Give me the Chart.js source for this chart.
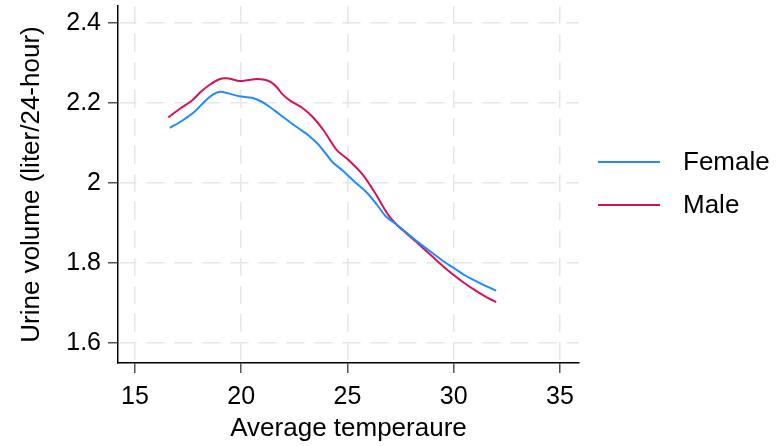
<!DOCTYPE html>
<html>
<head>
<meta charset="utf-8">
<script src="https://cdn.jsdelivr.net/npm/chart.js@4"></script>
<style>
  html, body { margin: 0; padding: 0; background: #fff; }
  #wrap { width: 782px; height: 446px; }
</style>
</head>
<body>
<div id="wrap"><canvas id="myChart" width="782" height="446"></canvas></div>
<script>
// temperature / urine volume
const femaleTemp = [16.64, 17.2, 17.8, 18.3, 18.7, 19.0, 19.4, 19.9, 20.5, 20.9, 21.3, 21.8, 22.3, 22.8, 23.1, 23.6, 24.0, 24.3, 24.8, 25.3, 25.9, 26.4, 26.8, 27.3, 27.8, 28.4, 29.0, 29.5, 30.0, 30.5, 31.0, 31.5, 32.0];
const femaleVol  = [2.138, 2.155, 2.178, 2.205, 2.222, 2.228, 2.224, 2.217, 2.213, 2.205, 2.192, 2.172, 2.152, 2.133, 2.122, 2.098, 2.072, 2.052, 2.030, 2.005, 1.977, 1.945, 1.917, 1.897, 1.875, 1.849, 1.825, 1.805, 1.788, 1.770, 1.756, 1.743, 1.731];

const maleTemp = [16.57, 17.1, 17.7, 18.1, 18.5, 19.0, 19.3, 19.6, 19.9, 20.3, 20.7, 21.1, 21.4, 21.7, 21.9, 22.3, 22.9, 23.4, 23.9, 24.5, 25.0, 25.7, 26.3, 26.9, 27.3, 27.8, 28.4, 29.0, 29.5, 30.0, 30.5, 31.0, 31.5, 32.0];
const maleVol  = [2.164, 2.185, 2.207, 2.228, 2.245, 2.260, 2.262, 2.259, 2.255, 2.257, 2.260, 2.258, 2.252, 2.238, 2.224, 2.206, 2.187, 2.163, 2.130, 2.082, 2.060, 2.022, 1.975, 1.922, 1.897, 1.873, 1.845, 1.816, 1.792, 1.770, 1.750, 1.732, 1.716, 1.702];

const xTicks = [15, 20, 25, 30, 35];
const yTicks = [1.6, 1.8, 2.0, 2.2, 2.4];
const seriesNames = ["Female", "Male"];

const FONT = "'Liberation Sans', Arial, sans-serif";

function toPoints(xs, ys) {
    const pts = [];
    for (let i = 0; i < xs.length; i++) pts.push({ x: xs[i], y: ys[i] });
    return pts;
}

// legend drawn at the right, like the original
const sideLegend = {
    id: "sideLegend",
    afterDraw(chart) {
        const ctx = chart.ctx;
        const rows = [162, 205];
        ctx.save();
        chart.data.datasets.forEach(function (ds, i) {
            ctx.strokeStyle = ds.borderColor;
            ctx.lineWidth = 2;
            ctx.beginPath();
            ctx.moveTo(598, rows[i]);
            ctx.lineTo(660, rows[i]);
            ctx.stroke();
            ctx.fillStyle = "#000";
            ctx.font = "26px " + FONT;
            ctx.textBaseline = "middle";
            ctx.textAlign = "left";
            ctx.fillText(ds.label, 683, rows[i] + 1);
        });
        ctx.restore();
    }
};

const gridOpts = {
    color: "#e6e6e6",
    lineWidth: 1.5,
    tickLength: 10,
    tickColor: "#555",
    tickWidth: 1.5,
    tickBorderDash: []
};

const ctx = document.getElementById("myChart").getContext("2d");
const chart = new Chart(ctx, {
    type: "line",
    data: {
        datasets: [{
            label: seriesNames[0],
            data: toPoints(femaleTemp, femaleVol),
            borderColor: "#1f8bff",
            backgroundColor: "transparent",
            borderWidth: 2,
            pointRadius: 0,
            tension: 0.3
        }, {
            label: seriesNames[1],
            data: toPoints(maleTemp, maleVol),
            borderColor: "#d41159",
            backgroundColor: "transparent",
            borderWidth: 2,
            pointRadius: 0,
            tension: 0.3
        }]
    },
    options: {
        responsive: false,
        animation: false,
        layout: { padding: { top: 6, right: 203, bottom: 0, left: 0 } },
        plugins: { legend: { display: false }, tooltip: { enabled: false } },
        scales: {
            x: {
                type: "linear",
                min: 14.2,
                max: 35.9,
                afterBuildTicks: function (scale) { scale.ticks = xTicks.map(v => ({ value: v })); },
                afterFit: function (scale) {
                    scale.height = 83;
                    scale.paddingLeft = 0;
                    scale.paddingRight = 0;
                },
                grid: gridOpts,
                border: { color: "#000", width: 1.5, dash: [18, 10] },
                ticks: { color: "#000", padding: 9, font: { family: FONT, size: 25 }, maxRotation: 0 },
                title: { display: true, text: "Average temperaure", color: "#000", font: { family: FONT, size: 26 }, padding: { top: 0, bottom: 2 } }
            },
            y: {
                type: "linear",
                min: 1.55,
                max: 2.4425,
                afterBuildTicks: function (scale) { scale.ticks = yTicks.map(v => ({ value: v })); },
                afterFit: function (scale) {
                    scale.width = 118;
                    scale.paddingTop = 0;
                    scale.paddingBottom = 0;
                },
                grid: gridOpts,
                border: { color: "#000", width: 1.5, dash: [18, 10] },
                ticks: {
                    color: "#000", padding: 7, font: { family: FONT, size: 25 },
                    callback: function (v) { return String(Math.round(v * 10) / 10); }
                },
                title: { display: true, text: "Urine volume (liter/24-hour)", color: "#000", font: { family: FONT, size: 26 }, padding: { top: 16, bottom: 0 } }
            }
        }
    },
    plugins: [sideLegend]
});
</script>
</body>
</html>
